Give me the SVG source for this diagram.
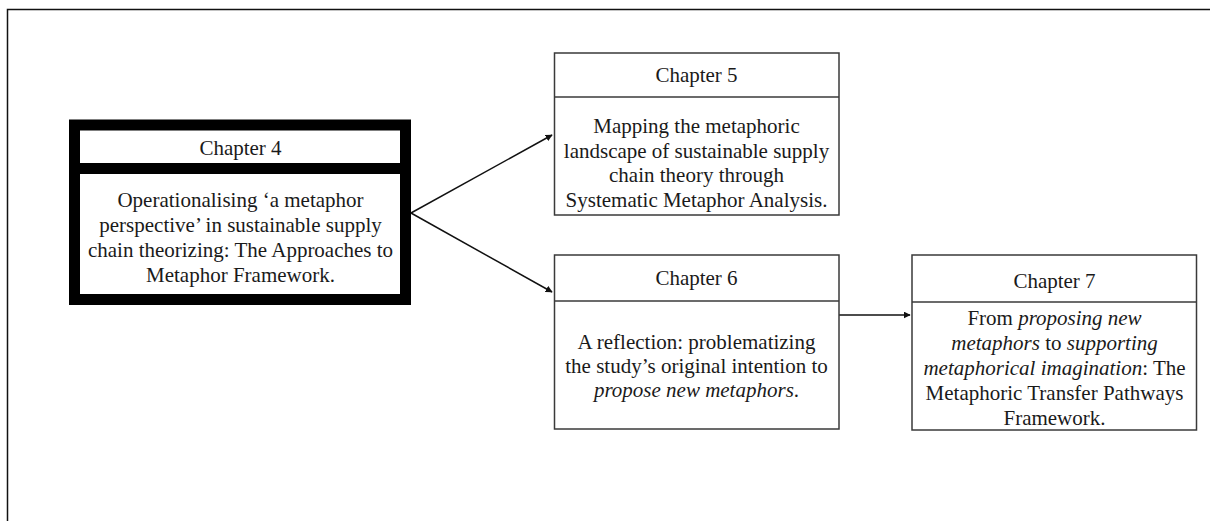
<svg xmlns="http://www.w3.org/2000/svg" width="1210" height="521" viewBox="0 0 1210 521">
<style>
.t{font-family:"Liberation Serif","Times New Roman",serif;font-size:21px;fill:#1a1a1a;text-anchor:middle}
.i{font-style:italic}
.box{fill:#fff;stroke:#3a3a3a;stroke-width:1.5}
.div{stroke:#3a3a3a;stroke-width:1.5}
.conn{stroke:#111;stroke-width:1.5;fill:none}
</style>
<defs>
<marker id="ah" viewBox="0 0 10 10" refX="9" refY="5" markerWidth="7" markerHeight="7" markerUnits="userSpaceOnUse" orient="auto">
<path d="M0,0 L10,5 L0,10 z" fill="#111"/>
</marker>
</defs>
<rect width="1210" height="521" fill="#fff"/>
<path d="M7.5,521 L7.5,9.5 L1210,9.5" fill="none" stroke="#111" stroke-width="1.5"/>
<g id="connectors">
<line class="conn" x1="411" y1="213" x2="552" y2="135" marker-end="url(#ah)"/>
<line class="conn" x1="411" y1="213" x2="552" y2="292" marker-end="url(#ah)"/>
<line class="conn" x1="839" y1="315" x2="910" y2="315" marker-end="url(#ah)"/>
</g>
<g id="chapter4">
<rect x="74.5" y="125" width="331" height="174.5" fill="#fff" stroke="#000" stroke-width="11"/>
<line x1="69" y1="168.5" x2="411" y2="168.5" stroke="#000" stroke-width="11"/>
<text class="t" x="240.5" y="155">Chapter 4</text>
<text class="t" x="240.5" y="207">Operationalising ‘a metaphor</text>
<text class="t" x="240.5" y="232">perspective’ in sustainable supply</text>
<text class="t" x="240.5" y="257">chain theorizing: The Approaches to</text>
<text class="t" x="240.5" y="282">Metaphor Framework.</text>
</g>
<g id="chapter5">
<rect class="box" x="554.5" y="53" width="284.5" height="162"/>
<line class="div" x1="554.5" y1="97" x2="839" y2="97"/>
<text class="t" x="696.5" y="82">Chapter 5</text>
<text class="t" x="696.5" y="133">Mapping the metaphoric</text>
<text class="t" x="696.5" y="157.5">landscape of sustainable supply</text>
<text class="t" x="696.5" y="182">chain theory through</text>
<text class="t" x="696.5" y="206.5">Systematic Metaphor Analysis.</text>
</g>
<g id="chapter6">
<rect class="box" x="554.5" y="255" width="284.5" height="174"/>
<line class="div" x1="554.5" y1="301" x2="839" y2="301"/>
<text class="t" x="696.5" y="285">Chapter 6</text>
<text class="t" x="696.5" y="348.5">A reflection: problematizing</text>
<text class="t" x="696.5" y="372.5">the study’s original intention to</text>
<text class="t" x="696.5" y="396.5"><tspan class="i">propose new metaphors</tspan>.</text>
</g>
<g id="chapter7">
<rect class="box" x="912" y="255" width="284.5" height="175"/>
<line class="div" x1="912" y1="302" x2="1196.5" y2="302"/>
<text class="t" x="1054.5" y="288">Chapter 7</text>
<text class="t" x="1054.5" y="325">From <tspan class="i">proposing new</tspan></text>
<text class="t" x="1054.5" y="350"><tspan class="i">metaphors</tspan> to <tspan class="i">supporting</tspan></text>
<text class="t" x="1054.5" y="375"><tspan class="i">metaphorical imagination</tspan>: The</text>
<text class="t" x="1054.5" y="400">Metaphoric Transfer Pathways</text>
<text class="t" x="1054.5" y="425">Framework.</text>
</g>
</svg>
